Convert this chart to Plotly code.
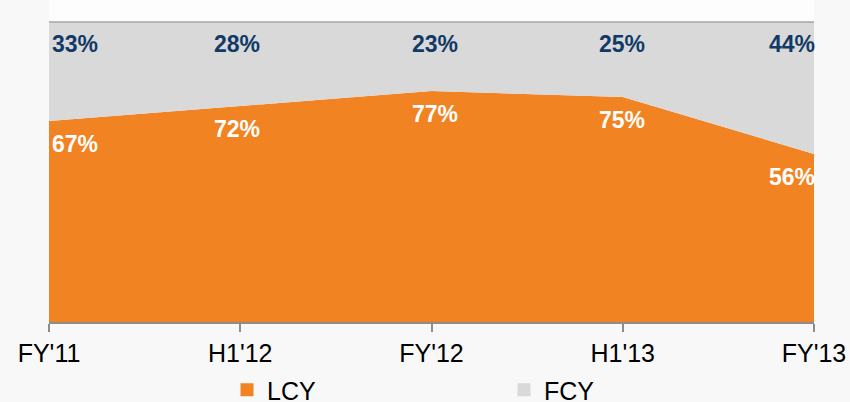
import plotly.graph_objects as go

periods = ["FY'11", "H1'12", "FY'12", "H1'13", "FY'13"]
lcy = [67, 72, 77, 75, 56]
fcy = [33, 28, 23, 25, 44]
series_names = ["LCY", "FCY"]

ORANGE = "#F28322"
GRAY = "#D9D9D9"
NAVY = "#123A66"
FONT = "Liberation Sans, Arial, sans-serif"

fig = go.Figure()
fig.add_trace(go.Scatter(x=periods, y=lcy, name=series_names[0], stackgroup="one",
                         mode="none", fillcolor=ORANGE, showlegend=False, hoverinfo="skip"))
fig.add_trace(go.Scatter(x=periods, y=fcy, name=series_names[1], stackgroup="one",
                         mode="none", fillcolor=GRAY, showlegend=False, hoverinfo="skip"))
# legend entries
for nm, col in zip(series_names, [ORANGE, GRAY]):
    fig.add_trace(go.Scatter(x=[None], y=[None], mode="markers", name=nm,
                             marker=dict(symbol="square", size=13, color=col)))

n = len(periods)
anns = []
for i, (p, a, b) in enumerate(zip(periods, lcy, fcy)):
    xa = "left" if i == 0 else ("right" if i == n - 1 else "center")
    xs = 1 if i == 0 else (3 if i == n - 1 else (-3 if i == 1 else (3 if i == 2 else -1)))
    anns.append(dict(x=p, y=a + b, xref="x", yref="y", text=f"{b}%", showarrow=False,
                     xanchor=xa, yanchor="middle", yshift=-22, xshift=xs,
                     font=dict(family=FONT, size=23, color=NAVY, weight="bold")))
    anns.append(dict(x=p, y=a, xref="x", yref="y", text=f"{a}%", showarrow=False,
                     xanchor=xa, yanchor="middle", yshift=-23, xshift=xs,
                     font=dict(family=FONT, size=23, color="white", weight="bold")))

fig.update_layout(
    width=850, height=402,
    margin=dict(l=49, r=36, t=22, b=80, autoexpand=False),
    paper_bgcolor="#F8F8F8", plot_bgcolor="#F8F8F8",
    font=dict(family=FONT, color="black"),
    xaxis=dict(type="category", range=[0, n - 1], showgrid=False, zeroline=False,
               showline=True, linecolor="#8C8C8C", linewidth=1.5,
               ticks="outside", ticklen=8, tickcolor="#8C8C8C", tickwidth=1.5,
               tickfont=dict(family=FONT, size=25, color="black"),
               automargin=False),
    yaxis=dict(range=[0, 100], visible=False),
    legend=dict(orientation="h", x=0.2327, xanchor="left", y=-0.15, yanchor="top",
                traceorder="normal",
                font=dict(family=FONT, size=25, color="black"),
                entrywidth=232, entrywidthmode="pixels", bgcolor="rgba(0,0,0,0)",
                itemwidth=30),
    annotations=anns,
    shapes=[
        dict(type="rect", xref="paper", yref="paper", x0=0, x1=1, y0=1, y1=1.1,
             line=dict(width=0), fillcolor="#FDFDFD", layer="below"),
        dict(type="line", xref="paper", yref="paper", x0=0, x1=1, y0=1, y1=1,
             line=dict(color="#A6A6A6", width=1.5)),
    ],
)

fig.write_html("out.html", config={"displayModeBar": False},
               post_script="document.body.style.margin='0';document.body.style.overflow='hidden';")
